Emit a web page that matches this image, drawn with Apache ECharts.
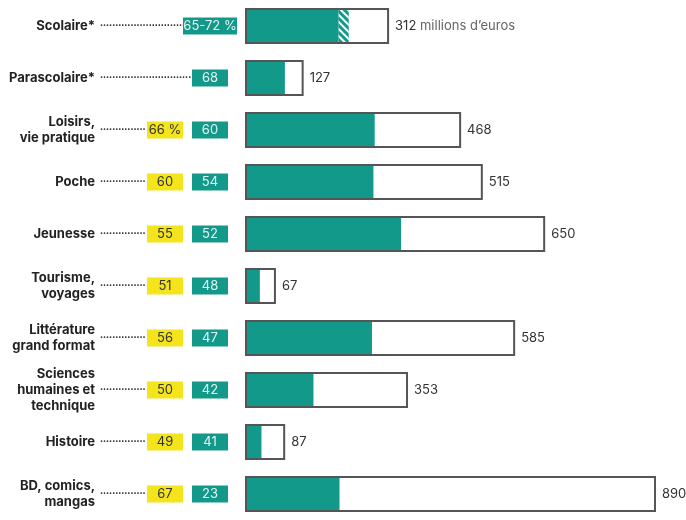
<!DOCTYPE html>
<html lang="fr">
<head>
    <meta charset="utf-8">
    <title>Marché du livre</title>
    <script src="https://cdn.jsdelivr.net/npm/echarts@6/dist/echarts.min.js"></script>
</head>
<body style="margin:0;background:#fff;">
<div id="main" style="width: 686px;height:520px;"></div>
<script type="text/javascript">
    var categories = ['Scolaire*', 'Parascolaire*', 'Loisirs,\nvie pratique', 'Poche', 'Jeunesse',
        'Tourisme,\nvoyages', 'Littérature\ngrand format', 'Sciences\nhumaines et\ntechnique', 'Histoire',
        'BD, comics,\nmangas'];
    var totals = [312, 127, 468, 515, 650, 67, 585, 353, 87, 890];
    var tealShare = [65, 68, 60, 54, 52, 48, 47, 42, 41, 23];
    var tealShareHigh = [72, null, null, null, null, null, null, null, null, null];
    var yellowLabels = ['', '', '66 %', '60', '55', '51', '56', '50', '49', '67'];
    var tealLabels = ['65-72 %', '68', '60', '54', '52', '48', '47', '42', '41', '23'];

    var TEAL = '#12998a';
    var YELLOW = '#f3e41c';
    var FONT = 'Inter, "Noto Sans", sans-serif';

    var fillData = [], hatchData = [];
    for (var i = 0; i < totals.length; i++) {
        fillData.push(totals[i] * tealShare[i] / 100);
        hatchData.push(tealShareHigh[i] ? totals[i] * (tealShareHigh[i] - tealShare[i]) / 100 : null);
    }

    function sideAxis(label) {
        return {
            type: 'category', data: categories, inverse: true, position: 'left',
            axisLine: {show: false}, axisTick: {show: false}, splitLine: {show: false},
            axisLabel: label
        };
    }

    var myChart = echarts.init(document.getElementById('main'));
    var option = {
        animation: false,
        textStyle: {fontFamily: FONT},
        grid: {left: 245, right: 30, top: -3, bottom: -3},
        xAxis: {type: 'value', min: 0, max: 890, show: false, splitLine: {show: false}},
        yAxis: [
            // noms des catégories
            sideAxis({
                interval: 0, margin: 150, align: 'right',
                fontFamily: FONT, fontWeight: 'bold', fontSize: 13, lineHeight: 16, color: '#222'
            }),
            // pointillés
            sideAxis({
                interval: 0, margin: 145, align: 'left',
                fontFamily: 'DejaVu Sans', fontSize: 8, fontWeight: 'bold', color: '#333',
                formatter: function (v, idx) {
                    return yellowLabels[idx] ? '···············' : '·······························';
                }
            }),
            // cases jaunes
            sideAxis({
                interval: 0, margin: 80, align: 'center',
                formatter: function (v, idx) {
                    return yellowLabels[idx] ? '{y|' + yellowLabels[idx] + '}' : '';
                },
                rich: {
                    y: {backgroundColor: YELLOW, width: 36, height: 17, lineHeight: 17, align: 'center',
                        color: '#333', fontSize: 13, fontFamily: FONT}
                }
            }),
            // cases vertes
            sideAxis({
                interval: 0, margin: 35, align: 'center',
                formatter: function (v, idx) {
                    var t = tealLabels[idx];
                    return t.length > 3 ? '{w|' + t + '}' : '{t|' + t + '}';
                },
                rich: {
                    t: {backgroundColor: TEAL, width: 36, height: 17, lineHeight: 17, align: 'center',
                        color: '#e6f4f2', fontSize: 13, fontFamily: FONT},
                    w: {backgroundColor: TEAL, width: 54, height: 17, lineHeight: 17, align: 'center',
                        color: '#e6f4f2', fontSize: 13, fontFamily: FONT}
                }
            })
        ],
        series: [
            {
                name: 'fond', type: 'bar', data: totals, barWidth: 36, barGap: '-100%',
                itemStyle: {color: '#fff'}, z: 1
            },
            {
                name: 'part', type: 'bar', stack: 'p', data: fillData, barWidth: 36, barGap: '-100%',
                itemStyle: {color: TEAL}, z: 2
            },
            {
                name: 'fourchette', type: 'bar', stack: 'p', data: hatchData, barWidth: 36, barGap: '-100%',
                itemStyle: {
                    color: TEAL,
                    decal: {
                        symbol: 'rect', symbolSize: 1, color: '#ffffff',
                        dashArrayX: [1, 0], dashArrayY: [1.5, 2.5], rotation: Math.PI / 4
                    }
                }, z: 2
            },
            {
                name: 'total', type: 'bar', data: totals, barWidth: 36, barGap: '-100%',
                itemStyle: {color: 'rgba(0,0,0,0)', borderColor: '#555', borderWidth: 2}, z: 3,
                label: {
                    show: true, position: 'right', distance: 6, fontSize: 13, color: '#333', fontFamily: FONT,
                    formatter: function (p) {
                        return p.dataIndex === 0 ? '{v|' + p.value + '} {u|millions d\u2019euros}' : p.value;
                    },
                    rich: {
                        v: {fontSize: 13, color: '#333', fontFamily: FONT},
                        u: {fontSize: 13, color: '#666', fontFamily: FONT}
                    }
                }
            }
        ]
    };

    myChart.setOption(option);
</script>
</body>
</html>
